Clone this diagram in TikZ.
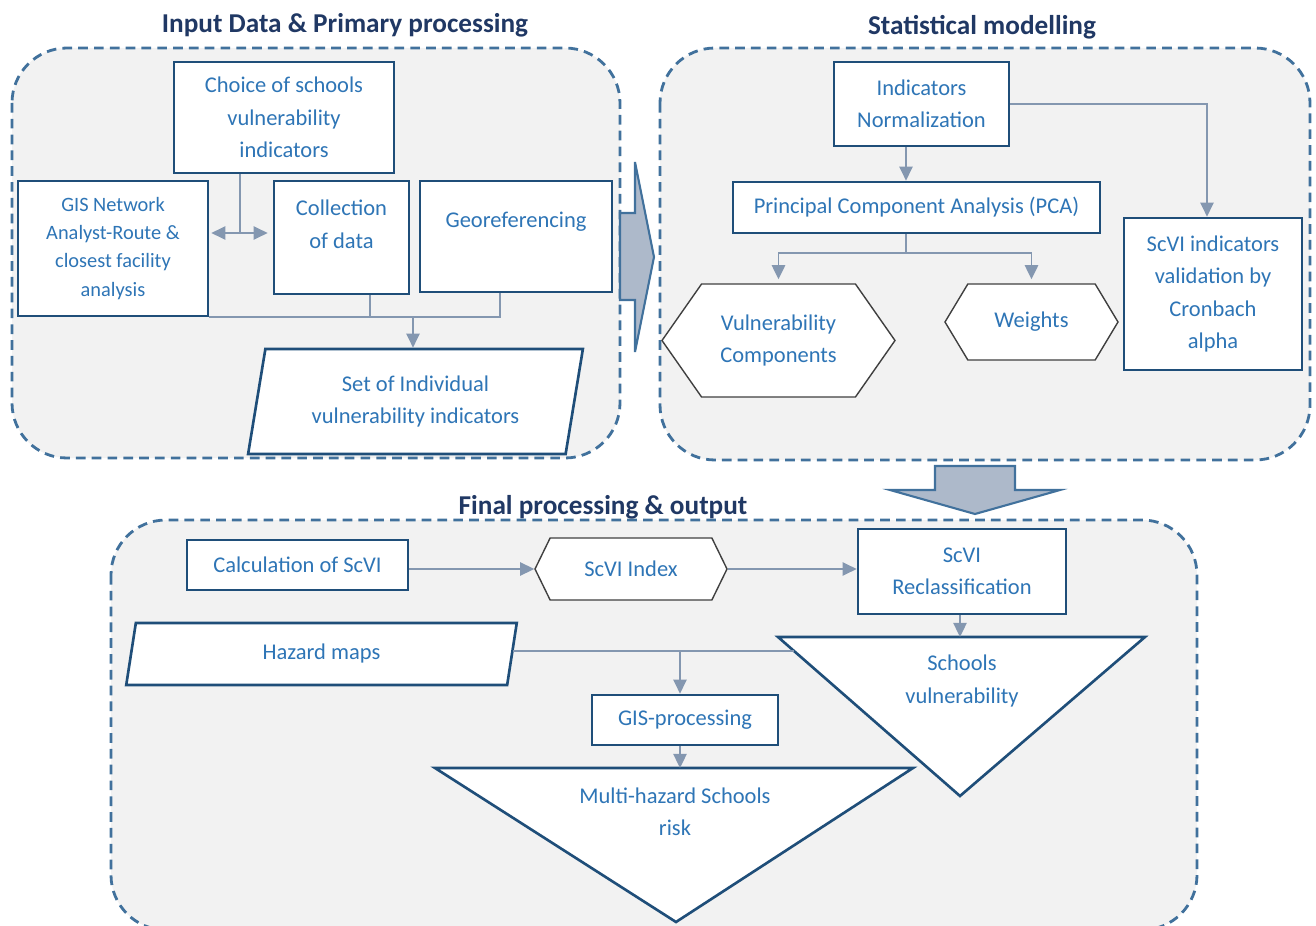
\documentclass[tikz,border=0pt]{standalone}
\usepackage{fontspec}
\setmainfont{Carlito}
\usetikzlibrary{arrows.meta,positioning,calc,shapes.geometric,shapes.symbols}
\definecolor{ivblue}{HTML}{1F4E79}
\definecolor{ivtext}{HTML}{2E75B6}
\definecolor{ivtitle}{HTML}{203864}
\definecolor{ivdash}{HTML}{41719C}
\definecolor{ivlink}{HTML}{8497B0}
\definecolor{ivgray}{HTML}{F2F2F2}
\definecolor{ivarrow}{HTML}{ADB9CA}
\newcommand{\pxu}{0.02cm}
\tikzset{
  panelBox/.style={draw=ivdash, fill=ivgray, line width=1.6pt, dash pattern=on 5.5pt off 3.5pt, rounded corners=1.1cm},
  panelTitle/.style={font=\fontsize{15.5}{18}\selectfont\bfseries, text=ivtitle},
  stepBox/.style={draw=ivblue, fill=white, line width=1.5pt, align=center, text=ivtext, font=\fontsize{12.8}{18.5}\selectfont, inner sep=0pt},
  hexBox/.style={signal, signal to=west and east, draw=black!75, fill=white, line width=0.8pt, align=center, text=ivtext, font=\fontsize{12.8}{18.5}\selectfont, inner sep=0pt},
  dataBox/.style={trapezium, trapezium stretches=true, draw=ivblue, fill=white, line width=1.5pt, align=center, text=ivtext, font=\fontsize{12.8}{18.5}\selectfont, inner sep=0pt},
  triText/.style={align=center, text=ivtext, font=\fontsize{12.8}{18.5}\selectfont},
  flowLink/.style={draw=ivlink, line width=1.1pt},
  flowArrow/.style={flowLink, -{Triangle[length=8pt,width=7.5pt]}},
  bigArrow/.style={draw=ivdash, fill=ivarrow, line width=1.2pt}
}

\begin{document}
\begin{tikzpicture}[x=\pxu,y=-\pxu]
  \useasboundingbox (0,0) rectangle (1316,926);
  % panels
  \draw[panelBox] (12,48) rectangle (620,458);
  \draw[panelBox] (660,48) rectangle (1310,460);
  \draw[panelBox] (111,520) rectangle (1197,930);
  \node[panelTitle] (t1) at (345,25) {Input Data \& Primary processing};
  \node[panelTitle] (t2) at (982,27) {Statistical modelling};
  \node[panelTitle] (t3) at (603,507) {Final processing \& output};

  % input data & primary processing
  \node[stepBox, minimum width=220*\pxu, minimum height=111*\pxu] (choice) at (284,117.5) {Choice of schools\\vulnerability\\indicators};
  \node[stepBox, minimum width=190*\pxu, minimum height=135*\pxu, font=\fontsize{11.6}{16}\selectfont] (gis) at (113,248.5) {GIS Network\\Analyst-Route \&\\closest facility\\analysis};
  \node[stepBox, minimum width=135*\pxu, minimum height=113*\pxu, text depth=15pt] (coll) at (341.5,237.5) {Collection\\of data};
  \node[stepBox, minimum width=192*\pxu, minimum height=111*\pxu, text depth=19pt] (geo) at (516,236.5) {Georeferencing};
  \node[dataBox, trapezium left angle=77, trapezium right angle=103, minimum width=335*\pxu, minimum height=105*\pxu] (set) at (415.5,401.5) {Set of Individual\\vulnerability indicators};

  \coordinate (cj) at (240,233);
  \draw[flowLink] (choice.south -| cj) -- (cj);
  \draw[flowLink, {Triangle[length=8pt,width=7.5pt]}-{Triangle[length=8pt,width=7.5pt]}] ([xshift=2*\pxu]gis.east |- cj) -- ([xshift=-5*\pxu]coll.west |- cj);
  \coordinate (gj) at (500,317);
  \coordinate (kj) at (370,317);
  \coordinate (mj) at (413,317);
  \draw[flowLink] (gis.south east |- gj) -- (gj) -- (gj |- geo.south);
  \draw[flowLink] (kj) -- (kj |- coll.south);
  \draw[flowArrow] (mj) -- (mj |- set.north);

  \draw[bigArrow] (620,213) -- (635,213) -- (635,162) -- (654,257) -- (635,352) -- (635,300) -- (620,300) -- cycle;

  % statistical modelling
  \node[stepBox, minimum width=175*\pxu, minimum height=84*\pxu] (norm) at (921.5,104) {Indicators\\Normalization};
  \node[stepBox, minimum width=367*\pxu, minimum height=51*\pxu] (pca) at (916.5,207.5) {Principal Component Analysis (PCA)};
  \node[hexBox, signal pointer angle=110, minimum width=233*\pxu, minimum height=113*\pxu] (vc) at (778.5,340.5) {Vulnerability\\Components};
  \node[hexBox, signal pointer angle=118, minimum width=173*\pxu, minimum height=76*\pxu] (wt) at (1031.5,322) {Weights};
  \node[stepBox, minimum width=178*\pxu, minimum height=152*\pxu] (val) at (1213,294) {ScVI indicators\\validation by\\Cronbach\\alpha};

  \coordinate (pj) at (906,253);
  \draw[flowArrow] (pj |- norm.south) -- (pj |- pca.north);
  \draw[flowArrow] (norm.east) -| ([xshift=-6*\pxu]val.north);
  \draw[flowLink] (pj |- pca.south) -- (pj);
  \draw[flowArrow, shorten >=4*\pxu] (pj) -| (vc.north);
  \draw[flowArrow, shorten >=4*\pxu] (pj) -| (wt.north);

  \draw[bigArrow] (935,466) -- (1015,466) -- (1015,490) -- (1060,490) -- (975,514) -- (890,490) -- (935,490) -- cycle;

  % final processing & output
  \node[stepBox, minimum width=221*\pxu, minimum height=50*\pxu] (calc) at (297.5,565) {Calculation of ScVI};
  \node[hexBox, signal pointer angle=128, minimum width=192*\pxu, minimum height=62*\pxu] (idx) at (631,569) {ScVI Index};
  \node[stepBox, minimum width=208*\pxu, minimum height=85*\pxu] (recl) at (962,571.5) {ScVI\\Reclassification};
  \node[dataBox, trapezium left angle=81, trapezium right angle=99, minimum width=393*\pxu, minimum height=62*\pxu] (haz) at (321.5,654) {Hazard maps};
  \node[stepBox, minimum width=186*\pxu, minimum height=50*\pxu] (gisp) at (685,720) {GIS-processing};

  \draw[stepBox] (778,637) coordinate (sva) -- (1145,637) coordinate (svb) -- (960,796) coordinate (svc) -- cycle;
  \draw[stepBox] (435,768) coordinate (mha) -- (913,768) coordinate (mhb) -- (676,922) coordinate (mhc) -- cycle;
  \node[triText] (svtext) at (962,681) {Schools\\vulnerability};
  \node[triText] (mhtext) at (675,812) {Multi-hazard Schools\\risk};
  \coordinate (svtop) at (960,637);
  \coordinate (svleft) at (794,651);
  \coordinate (mhtop) at (680,768);
  \coordinate (hj) at (680,651);

  \draw[flowArrow] (calc.east |- idx.west) -- (idx.west);
  \draw[flowArrow] (idx.east) -- (idx.east -| recl.west);
  \draw[flowArrow] (recl.south -| svtop) -- (svtop);
  \draw[flowLink] (haz.east |- hj) -- (svleft);
  \draw[flowArrow] (hj) -- (hj |- gisp.north);
  \draw[flowArrow] (gisp.south -| mhtop) -- (mhtop);
\end{tikzpicture}
\end{document}
